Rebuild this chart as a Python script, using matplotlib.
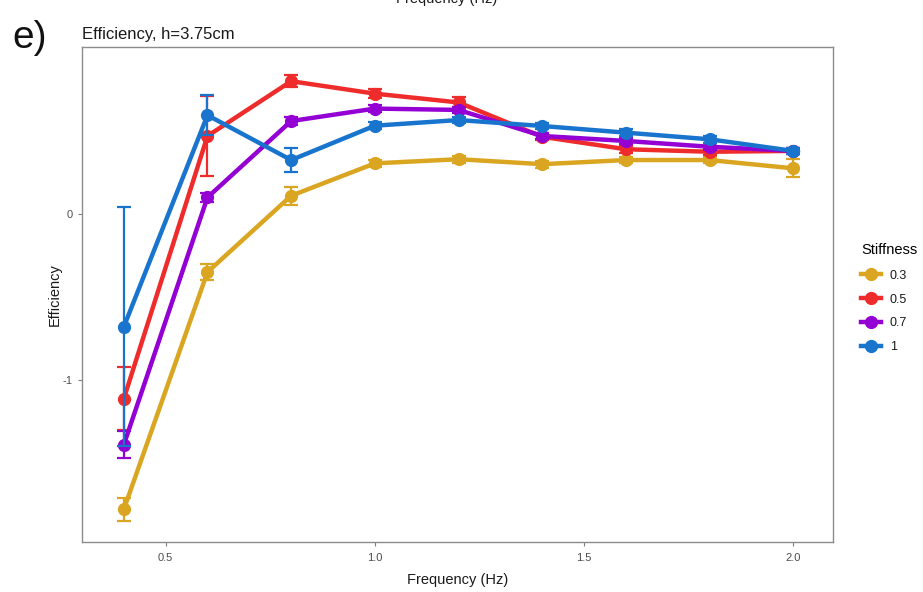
import matplotlib
matplotlib.use("Agg")
import matplotlib.pyplot as plt
from matplotlib.lines import Line2D

plt.rcParams['font.family'] = ['Liberation Sans', 'DejaVu Sans']

freq = [0.4, 0.6, 0.8, 1.0, 1.2, 1.4, 1.6, 1.8, 2.0]
stiffness = ["0.3", "0.5", "0.7", "1"]
colors = ["#DAA520", "#EE2C2C", "#9400D3", "#1874CD"]

eff_03 = [-1.78, -0.35, 0.11, 0.305, 0.33, 0.30, 0.325, 0.325, 0.275]
eff_05 = [-1.113, 0.47, 0.80, 0.725, 0.672, 0.465, 0.39, 0.375, 0.38]
eff_07 = [-1.39, 0.10, 0.56, 0.635, 0.627, 0.47, 0.44, 0.405, 0.38]
eff_1 = [-0.68, 0.595, 0.325, 0.532, 0.566, 0.53, 0.49, 0.45, 0.38]

se_03 = [0.07, 0.05, 0.055, 0.02, 0.02, 0.02, 0.02, 0.02, 0.055]
se_05 = [0.19, 0.24, 0.035, 0.025, 0.03, 0.02, 0.02, 0.02, 0.02]
se_07 = [0.08, 0.025, 0.025, 0.02, 0.02, 0.02, 0.02, 0.02, 0.02]
se_1 = [0.72, 0.12, 0.075, 0.02, 0.02, 0.02, 0.02, 0.02, 0.02]

efficiency = [eff_03, eff_05, eff_07, eff_1]
errors = [se_03, se_05, se_07, se_1]

fig = plt.figure(figsize=(9.23, 5.92), dpi=100)
ax = fig.add_axes([0.0888, 0.0845, 0.8137, 0.8361])

for i, (lab, col, y, e) in enumerate(zip(stiffness, colors, efficiency, errors)):
    z = 3 + i * 3
    ax.errorbar(freq, y, yerr=e, fmt="none", ecolor=col, elinewidth=1.6,
                capsize=5, capthick=1.6, zorder=z)
    ax.plot(freq, y, color=col, lw=3.2, zorder=z + 1, solid_capstyle="round")
    ax.plot(freq, y, "o", color=col, ms=8.5, zorder=z + 2, mec=col)

ax.set_xlim(0.30, 2.095)
ax.set_ylim(-1.976, 1.006)
ax.set_xticks([0.5, 1.0, 1.5, 2.0])
ax.set_xticklabels(["0.5", "1.0", "1.5", "2.0"])
ax.set_yticks([-1, 0])
ax.set_yticklabels(["-1", "0"])
ax.tick_params(axis="both", colors="#7F7F7F", labelcolor="#4D4D4D",
               labelsize=8, length=3, width=0.8)
ax.tick_params(axis="x", pad=5)
for s in ax.spines.values():
    s.set_color("#8C8C8C")
    s.set_linewidth(1.0)

ax.set_xlabel("Frequency (Hz)", fontsize=10.5, color="#1A1A1A", labelpad=7)
ax.set_ylabel("Efficiency", fontsize=10.5, color="#1A1A1A", labelpad=1)

fig.text(82 / 923, 1 - 35 / 592, "Efficiency, h=3.75cm", fontsize=12,
         color="#1A1A1A", va="center", ha="left")
fig.text(30 / 923, 1 - 38 / 592, "e)", fontsize=28, color="#111111",
         va="center", ha="center")
fig.text(447 / 923, 1 + 1 / 592, "Frequency (Hz)", fontsize=10.5,
         color="#1A1A1A", va="center", ha="center")

handles = [Line2D([0], [0], color=c, lw=3.2, marker="o", ms=8.5) for c in colors]
leg = fig.legend(handles, stiffness, title="Stiffness", loc="upper left",
                 bbox_to_anchor=(850 / 923, 1 - 232 / 592), frameon=False,
                 fontsize=9, title_fontsize=10.5, handlelength=1.6,
                 handletextpad=0.7, labelspacing=0.95, alignment="left")
leg._legend_box.sep = 9
for t in leg.get_texts():
    t.set_color("#1A1A1A")

fig.savefig("out.png", dpi=100)
